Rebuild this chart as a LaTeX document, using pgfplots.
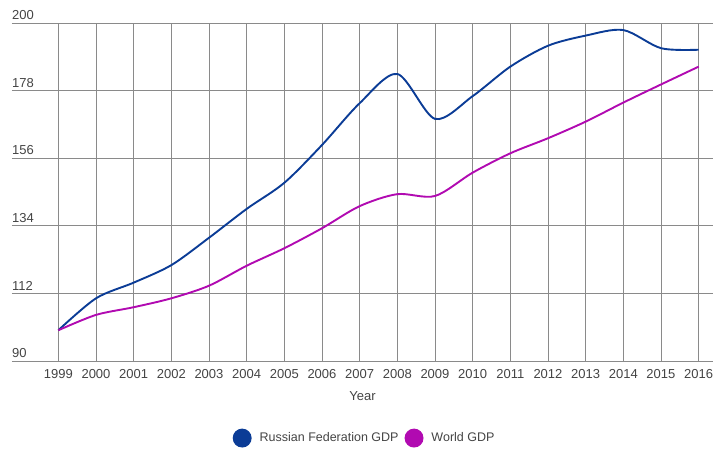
\documentclass[border=0pt]{standalone}
\usepackage{pgfplots}
\pgfplotsset{compat=1.18}
\usepackage{fontspec}
\setmainfont{Liberation Sans}
\definecolor{rusblue}{HTML}{0B3C96}
\definecolor{worldmag}{HTML}{B10AB1}
\definecolor{gridgray}{HTML}{8A8A8A}
\definecolor{txtgray}{HTML}{444444}
\begin{document}
\begin{tikzpicture}[x=1pt,y=1pt]
\begin{axis}[
  scale only axis,
  width=701pt, height=338pt,
  xmin=1997.77, xmax=2016.38,
  ymin=90, ymax=200,
  axis line style={draw=none},
  xtick={1999,...,2016},
  ytick={90,112,134,156,178,200},
  major tick length=0pt,
  grid=major,
  major grid style={gridgray, line width=0.8pt},
  /pgf/number format/assume math mode=true,
  /pgf/number format/1000 sep={},
  tick label style={font=\fontsize{13}{15}\selectfont, text=txtgray},
  xticklabel style={yshift=-5pt},
  yticklabel style={anchor=south west, inner sep=0pt, xshift=0pt, yshift=3pt},
  xlabel={Year},
  xlabel style={font=\fontsize{13}{15}\selectfont, text=txtgray, yshift=-6pt},
  legend style={at={(0.503,-0.228)}, anchor=center, draw=none, fill=none,
    legend columns=-1, font=\fontsize{12.5}{14}\selectfont, text=txtgray,
    /tikz/every even column/.append style={column sep=4pt},
    /tikz/every odd column/.append style={column sep=0pt}},
  legend image code/.code={\fill (4pt,0pt) circle (8.5pt);},
  legend cell align=left,
  every axis plot/.append style={line width=1.9pt, smooth, tension=0.5},
]
\addplot[color=rusblue] coordinates {
(1999,100.0) (2000,110.4) (2001,115.5) (2002,121.2) (2003,130.1) (2004,139.5)
(2005,148.0) (2006,160.3) (2007,173.9) (2008,183.4) (2009,168.8) (2010,176.2)
(2011,185.8) (2012,192.6) (2013,195.9) (2014,197.7) (2015,191.8) (2016,191.3)};
\addlegendentry[xshift=0pt]{\hspace{6pt}Russian Federation GDP}
\addplot[color=worldmag] coordinates {
(1999,100.0) (2000,105.0) (2001,107.5) (2002,110.4) (2003,114.5) (2004,121.0)
(2005,126.7) (2006,133.2) (2007,140.4) (2008,144.3) (2009,143.7) (2010,151.3)
(2011,157.6) (2012,162.5) (2013,167.9) (2014,174.1) (2015,180.0) (2016,185.8)};
\addlegendentry{\hspace{6pt}World GDP}
\end{axis}
\pgfresetboundingbox
\path[use as bounding box] (-12pt,-88pt) rectangle (701pt,361pt);
\end{tikzpicture}
\end{document}
